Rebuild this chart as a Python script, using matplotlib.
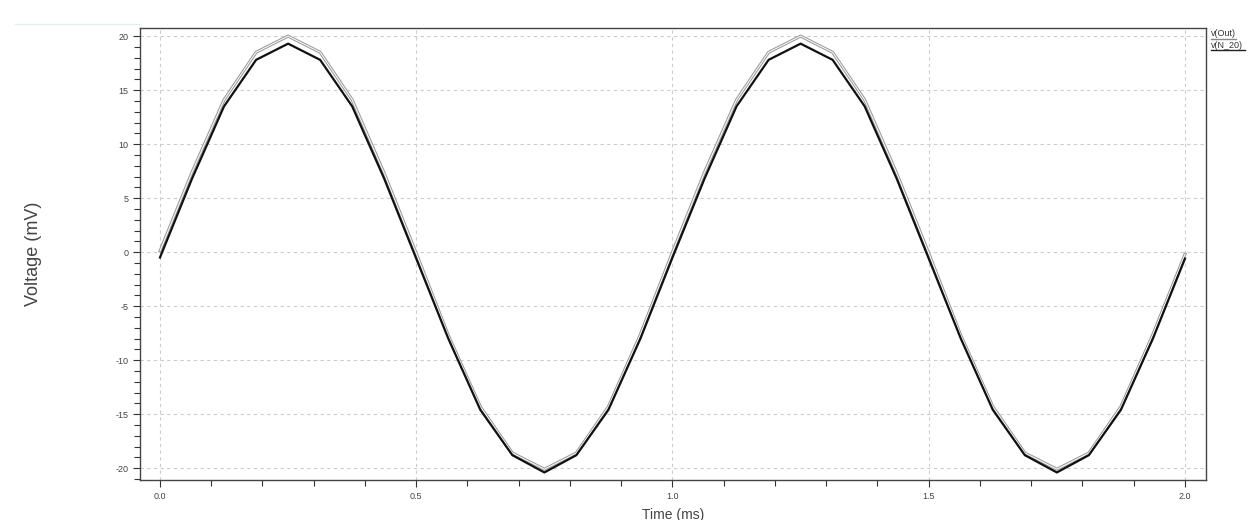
import numpy as np
import matplotlib.pyplot as plt
from matplotlib.lines import Line2D
from matplotlib.ticker import MultipleLocator

plt.rcParams['font.family'] = ['Liberation Sans', 'DejaVu Sans']

# time samples (ms)
time_ms = [0.0, 0.0625, 0.125, 0.1875, 0.25, 0.3125, 0.375, 0.4375, 0.5,
           0.5625, 0.625, 0.6875, 0.75, 0.8125, 0.875, 0.9375, 1.0,
           1.0625, 1.125, 1.1875, 1.25, 1.3125, 1.375, 1.4375, 1.5,
           1.5625, 1.625, 1.6875, 1.75, 1.8125, 1.875, 1.9375, 2.0]

# v(Out) - gray trace
v_out = [0.1, 7.4, 14.1, 18.5, 20.0, 18.5, 14.1, 7.3, -0.1,
         -7.7, -14.3, -18.6, -20.1, -18.6, -14.3, -7.6, 0.0,
         7.4, 14.1, 18.5, 20.0, 18.5, 14.1, 7.3, -0.1,
         -7.7, -14.3, -18.6, -20.1, -18.6, -14.3, -7.6, -0.2]

# v(N_20) - black trace
v_n20 = [-0.5, 6.8, 13.5, 17.8, 19.3, 17.8, 13.5, 6.8, -0.6,
         -8.0, -14.6, -18.8, -20.4, -18.8, -14.6, -8.0, -0.5,
         6.8, 13.5, 17.8, 19.3, 17.8, 13.5, 6.8, -0.6,
         -8.0, -14.6, -18.8, -20.4, -18.8, -14.6, -8.0, -0.6]

labels = ['v(Out)', 'v(N_20)']

fig = plt.figure(figsize=(12.49, 5.2), dpi=100)
ax = fig.add_axes([140 / 1249, 40 / 520, 1066 / 1249, 452 / 520])

ax.plot(time_ms, v_out, color='#9a9a9a', lw=2.2)
ax.plot(time_ms, v_out, color='white', lw=0.7)
ax.plot(time_ms, v_n20, color='#111111', lw=1.6)

ax.set_xlim(-0.039, 2.041)
ax.set_ylim(-21.1, 20.75)

ax.xaxis.set_major_locator(MultipleLocator(0.5))
ax.xaxis.set_minor_locator(MultipleLocator(0.1))
ax.yaxis.set_major_locator(MultipleLocator(5))
ax.yaxis.set_minor_locator(MultipleLocator(1))
ax.xaxis.set_major_formatter(plt.FormatStrFormatter('%.1f'))
ax.yaxis.set_major_formatter(plt.FormatStrFormatter('%d'))

ax.tick_params(which='both', direction='out', color='#333333', labelsize=6.5,
               labelcolor='#444444')
ax.tick_params(which='major', length=5, width=0.8)
ax.tick_params(which='minor', length=4, width=0.8)

ax.grid(True, which='major', color='#cccccc', linestyle=(0, (3, 3)), lw=0.8)
for s in ax.spines.values():
    s.set_color('#444444')
    s.set_linewidth(1.0)

ax.set_xlabel('Time (ms)', fontsize=10, color='#444444', labelpad=5)
ax.set_ylabel('Voltage (mV)', fontsize=13, color='#444444')
ax.yaxis.set_label_coords(-0.092, 0.5)

# legend entries on the right, underlined
fig.text(1211 / 1249, 1 - 34 / 520, labels[0], fontsize=6.5, color='#333333',
         ha='left', va='center')
fig.add_artist(Line2D([1211 / 1249, 1236 / 1249], [1 - 39 / 520, 1 - 39 / 520],
                      color='#888888', lw=1))
fig.text(1211 / 1249, 1 - 45 / 520, labels[1], fontsize=6.5, color='#333333',
         ha='left', va='center')
fig.add_artist(Line2D([1211 / 1249, 1245 / 1249], [1 - 50 / 520, 1 - 50 / 520],
                      color='#222222', lw=1))

# faint line at top left
fig.add_artist(Line2D([15 / 1249, 140 / 1249], [1 - 24 / 520, 1 - 24 / 520],
                      color='#e3f0f0', lw=1))

fig.savefig('out.png', dpi=100)
